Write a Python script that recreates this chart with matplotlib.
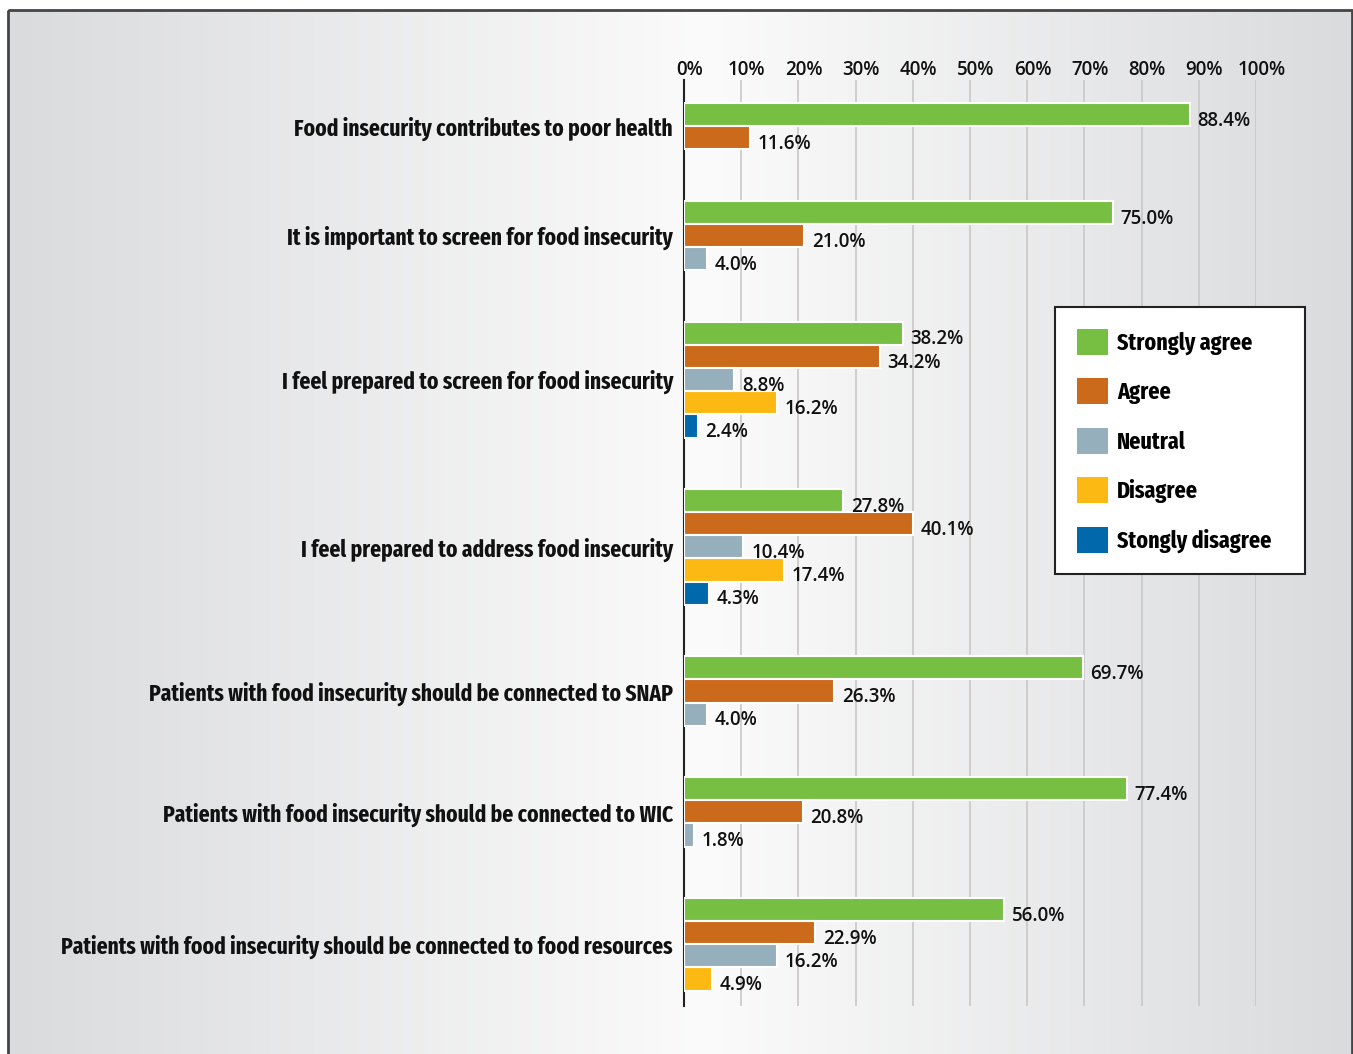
import numpy as np
import matplotlib
matplotlib.use("Agg")
import matplotlib.pyplot as plt
import matplotlib.transforms as mtransforms
from matplotlib.patches import Rectangle, Patch

# survey statements, top to bottom
statements = [
    "Food insecurity contributes to poor health",
    "It is important to screen for food insecurity",
    "I feel prepared to screen for food insecurity",
    "I feel prepared to address food insecurity",
    "Patients with food insecurity should be connected to SNAP",
    "Patients with food insecurity should be connected to WIC",
    "Patients with food insecurity should be connected to food resources",
]

responses = ["Strongly agree", "Agree", "Neutral", "Disagree", "Stongly disagree"]
colors = ["#76bf43", "#cb6a1b", "#95afbd", "#fdb913", "#0068ab"]

# percent per response; None = response not reported for that statement
strongly_agree = [88.4, 75.0, 38.2, 27.8, 69.7, 77.4, 56.0]
agree = [11.6, 21.0, 34.2, 40.1, 26.3, 20.8, 22.9]
neutral = [None, 4.0, 8.8, 10.4, 4.0, 1.8, 16.2]
disagree = [None, None, 16.2, 17.4, None, None, 4.9]
strongly_disagree = [None, None, 2.4, 4.3, None, None, None]

series = [strongly_agree, agree, neutral, disagree, strongly_disagree]

COND = "Fira Sans Extra Condensed"
NUM = "Open Sans"

W, H = 1353, 1054
fig = plt.figure(figsize=(W / 100, H / 100), dpi=100)

# grey - white - grey background panel
bg = fig.add_axes([0, 0, 1, 1], zorder=-10)
bg.set_xlim(0, W)
bg.set_ylim(H, 0)
bg.axis("off")
xs = np.linspace(0, 1, 400)
peak = 0.52
shade = np.where(xs < peak, (peak - xs) / peak, (xs - peak) / (1 - peak))
row = np.array([251, 251, 251]) - shade[:, None] * np.array([33, 32, 30])
grad = np.repeat(row[None, :, :], 2, axis=0) / 255.0
bg.imshow(grad, extent=[8, 1352, H + 5, 10], aspect="auto", zorder=0)
bg.add_patch(Rectangle((8, 10), 1344, H + 20, fill=False, ec="#454545", lw=2, zorder=1))

ax = fig.add_axes([684 / W, 1 - 1006 / H, 572 / W, (1006 - 80) / H])
ax.patch.set_alpha(0)

gap = 2.21
ypos = []
centers = []
start = 0.0
for i in range(len(statements)):
    vals = [s[i] for s in series]
    n = sum(v is not None for v in vals)
    ypos.append([start + k for k in range(len(vals))])
    centers.append(start + (n - 1) / 2)
    start += n + gap

for j, s in enumerate(series):
    for i, v in enumerate(s):
        if v is None:
            continue
        y = ypos[i][j]
        ax.barh(y, v, height=1.0, color=colors[j], edgecolor="white", linewidth=1.5, zorder=3)
        ax.annotate(f"{v:.1f}%", (v, y), xytext=(5.5, -4.5), textcoords="offset points",
                    va="center", ha="left", fontsize=13.5, fontweight="semibold",
                    family=NUM, color="#111111", zorder=4)

ax.set_xlim(0, 100)
ax.set_ylim(38.42, -1.49)
ax.set_xticks(np.arange(0, 101, 10))
ax.set_xticklabels([f"{t}%" for t in range(0, 101, 10)], fontsize=13.5,
                   fontweight="semibold", family=NUM, color="#111111")
ax.xaxis.tick_top()
ax.tick_params(axis="x", length=0, pad=0)
# percent labels sit a little right of their gridlines
shift = mtransforms.ScaledTranslation(4 / 72, 0, fig.dpi_scale_trans)
for lab in ax.get_xticklabels():
    lab.set_transform(lab.get_transform() + shift)
ax.grid(axis="x", color="#c8c8c8", lw=1.2, zorder=0)
ax.set_yticks(centers)
ax.set_yticklabels(statements, fontsize=16.8, fontweight="bold",
                   family=COND, color="#111111")
ax.tick_params(axis="y", length=0, pad=8)
for side in ["top", "right", "bottom"]:
    ax.spines[side].set_visible(False)
ax.spines["left"].set_color("#222222")
ax.spines["left"].set_linewidth(1.5)

handles = [Patch(facecolor=c, edgecolor="none") for c in colors]
leg = fig.legend(handles, responses, loc="upper left",
                 bbox_to_anchor=(1055 / W, 1 - 574 / H, 250 / W, 267 / H), mode="expand",
                 prop={"family": COND, "weight": "bold", "size": 17.2},
                 frameon=True, fancybox=False, borderpad=0.9, borderaxespad=0,
                 handlelength=1.3, handleheight=1.3, handletextpad=0.4,
                 labelspacing=0.98)
leg.get_frame().set_edgecolor("#222222")
leg.get_frame().set_linewidth(1.5)
leg.get_frame().set_facecolor("white")
leg.get_frame().set_alpha(1)

fig.savefig("out.png", dpi=100)
